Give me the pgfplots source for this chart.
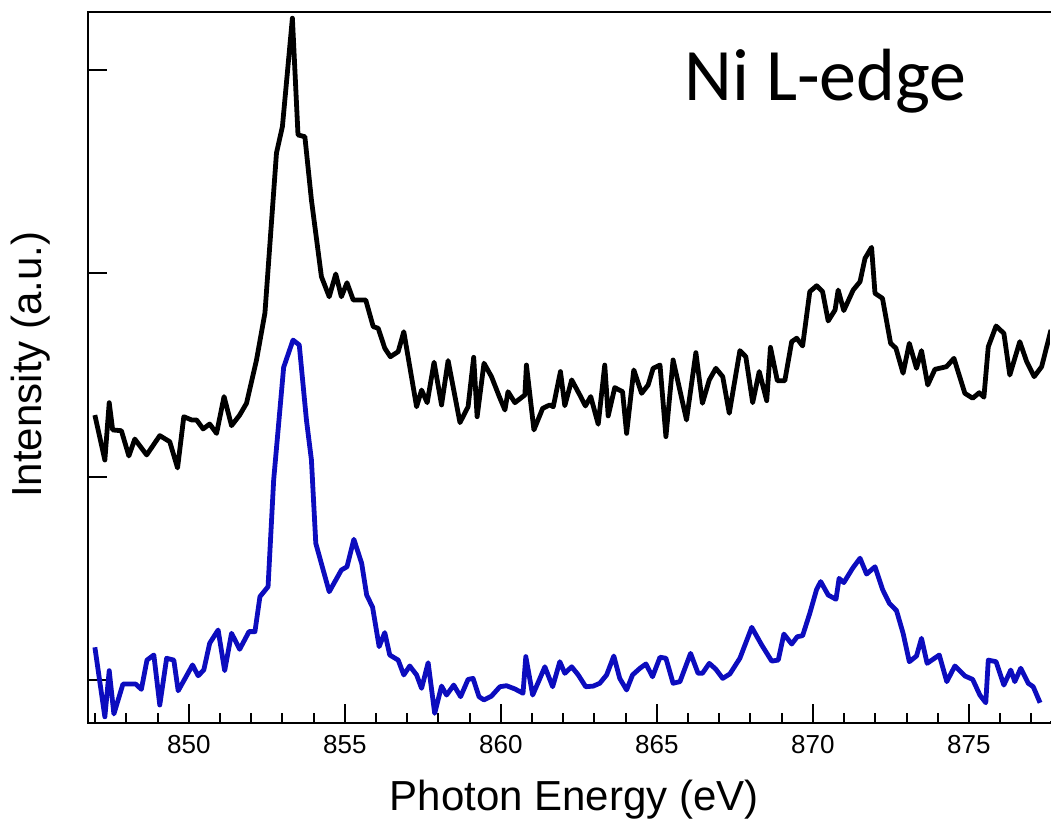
\documentclass[border=0pt]{standalone}
\usepackage{pgfplots}
\pgfplotsset{compat=1.18}
\usepackage{fontspec}
\setmainfont{Liberation Sans}
\newfontfamily\titlefont{Carlito}
\definecolor{specblue}{RGB}{12,12,190}
\begin{document}
\begin{tikzpicture}
\begin{axis}[
  scale only axis,
  width=481.5pt, height=355.2pt,
  xmin=846.77, xmax=877.63, ymin=-0.21, ymax=3.284,
  axis line style={line width=1pt, black},
  xtick={850,855,860,865,870,875},
  xticklabels={850,855,860,865,870,875},
  minor xtick={847,848,849,851,852,853,854,856,857,858,859,861,862,863,864,866,867,868,869,871,872,873,874,876,877},
  ytick={0,1,2,3}, yticklabels={},
  xtick pos=left, ytick pos=left,
  tick align=inside,
  major tick length=9.5pt, minor tick length=5pt,
  every tick/.style={line width=1pt, black},
  xticklabel style={font=\fontsize{13}{15}\selectfont, yshift=-3pt},
  xlabel={Photon Energy (eV)},
  ylabel={Intensity (a.u.)},
  xlabel style={font=\fontsize{21}{25}\selectfont, at={(axis description cs:0.505,0)}, anchor=base, yshift=-43.7pt},
  ylabel style={font=\fontsize{21}{25}\selectfont, at={(axis description cs:-0.060,0.504)}, anchor=center},
  clip=false,
]
\addplot[black, line width=2.4pt, line join=round] coordinates {
(846.99,1.303) (847.31,1.082) (847.45,1.364) (847.56,1.230) (847.84,1.226)
(848.08,1.102) (848.27,1.185) (848.65,1.107) (849.07,1.202) (849.39,1.172)
(849.64,1.043) (849.84,1.295) (850.09,1.279) (850.25,1.279) (850.46,1.235)
(850.67,1.259) (850.89,1.213) (851.13,1.394) (851.37,1.251) (851.63,1.303)
(851.85,1.361) (852.17,1.574) (852.44,1.805) (852.81,2.592) (853.00,2.722)
(853.32,3.255) (853.50,2.681) (853.72,2.672) (853.93,2.361) (854.25,1.984)
(854.50,1.885) (854.71,1.997) (854.89,1.885) (855.07,1.954) (855.27,1.869)
(855.67,1.869) (855.91,1.738) (856.07,1.730) (856.28,1.632) (856.46,1.590)
(856.71,1.615) (856.89,1.713) (857.30,1.344) (857.46,1.426) (857.64,1.364)
(857.86,1.563) (858.10,1.353) (858.31,1.571) (858.69,1.266) (858.95,1.344)
(859.13,1.587) (859.24,1.295) (859.46,1.558) (859.70,1.492) (859.95,1.394)
(860.13,1.328) (860.23,1.418) (860.45,1.364) (860.77,1.402) (860.82,1.549)
(861.06,1.230) (861.34,1.336) (861.57,1.353) (861.68,1.344) (861.91,1.517)
(862.05,1.349) (862.27,1.476) (862.53,1.402) (862.71,1.348) (862.88,1.394)
(863.12,1.258) (863.33,1.549) (863.44,1.299) (863.65,1.438) (863.90,1.418)
(864.03,1.213) (864.26,1.525) (864.51,1.410) (864.72,1.451) (864.88,1.533)
(865.10,1.549) (865.29,1.197) (865.52,1.574) (865.95,1.279) (866.25,1.610)
(866.46,1.361) (866.68,1.476) (866.89,1.533) (867.11,1.492) (867.32,1.312)
(867.66,1.620) (867.85,1.590) (868.07,1.364) (868.28,1.517) (868.52,1.374)
(868.64,1.636) (868.86,1.472) (869.10,1.472) (869.32,1.664) (869.48,1.681)
(869.67,1.643) (869.90,1.910) (870.12,1.939) (870.31,1.910) (870.49,1.766)
(870.71,1.820) (870.81,1.918) (870.99,1.817) (871.29,1.918) (871.51,1.959)
(871.67,2.074) (871.88,2.128) (871.99,1.902) (872.23,1.877) (872.49,1.656)
(872.66,1.632) (872.89,1.509) (873.09,1.656) (873.32,1.533) (873.48,1.620)
(873.68,1.451) (873.91,1.528) (874.28,1.541) (874.52,1.582) (874.87,1.410)
(875.12,1.386) (875.33,1.413) (875.48,1.391) (875.62,1.639) (875.87,1.741)
(876.12,1.705) (876.31,1.500) (876.63,1.664) (876.85,1.566) (877.09,1.492)
(877.33,1.541) (877.63,1.722)
};
\addplot[specblue, line width=2.4pt, line join=round] coordinates {
(846.99,0.161) (847.31,-0.181) (847.45,0.046) (847.60,-0.167) (847.89,-0.020)
(848.30,-0.020) (848.48,-0.046) (848.66,0.098) (848.88,0.123) (849.07,-0.123)
(849.29,0.107) (849.52,0.098) (849.66,-0.053) (849.90,0.013) (850.12,0.074)
(850.30,0.021) (850.48,0.049) (850.67,0.181) (850.94,0.246) (851.15,0.046)
(851.37,0.230) (851.63,0.151) (851.93,0.238) (852.12,0.238) (852.28,0.410)
(852.54,0.459) (852.72,0.984) (853.04,1.538) (853.34,1.672) (853.54,1.648)
(853.77,1.279) (853.93,1.082) (854.07,0.672) (854.50,0.434) (854.89,0.541)
(855.07,0.557) (855.29,0.692) (855.54,0.574) (855.70,0.418) (855.89,0.358)
(856.10,0.164) (856.28,0.233) (856.44,0.123) (856.71,0.098) (856.89,0.025)
(857.08,0.069) (857.30,0.025) (857.46,-0.041) (857.67,0.085) (857.88,-0.164)
(858.10,-0.030) (858.26,-0.074) (858.49,-0.025) (858.71,-0.082) (858.95,0.003)
(859.11,0.008) (859.30,-0.082) (859.46,-0.098) (859.70,-0.079) (859.97,-0.033)
(860.18,-0.028) (860.45,-0.044) (860.71,-0.065) (860.80,0.115) (861.02,-0.074)
(861.23,0.000) (861.41,0.065) (861.66,-0.033) (861.89,0.090) (862.05,0.033)
(862.27,0.065) (862.48,0.025) (862.72,-0.033) (862.96,-0.030) (863.17,-0.016)
(863.39,0.025) (863.62,0.118) (863.81,0.008) (864.03,-0.049) (864.22,0.025)
(864.46,0.058) (864.65,0.079) (864.86,0.016) (865.10,0.112) (865.29,0.107)
(865.52,-0.016) (865.74,-0.008) (866.08,0.131) (866.32,0.033) (866.46,0.033)
(866.68,0.082) (866.89,0.053) (867.11,0.008) (867.34,0.030) (867.66,0.107)
(868.04,0.259) (868.36,0.172) (868.68,0.093) (868.89,0.098) (869.07,0.226)
(869.32,0.177) (869.50,0.213) (869.67,0.218) (869.90,0.328) (870.12,0.446)
(870.25,0.484) (870.49,0.418) (870.74,0.397) (870.84,0.500) (870.99,0.479)
(871.27,0.549) (871.51,0.599) (871.72,0.521) (871.99,0.557) (872.23,0.446)
(872.45,0.377) (872.68,0.341) (872.89,0.230) (873.09,0.090) (873.32,0.118)
(873.48,0.205) (873.66,0.082) (874.05,0.123) (874.29,-0.008) (874.55,0.069)
(874.87,0.020) (875.12,0.003) (875.35,-0.074) (875.54,-0.112) (875.62,0.098)
(875.87,0.090) (876.12,-0.025) (876.34,0.049) (876.47,-0.008) (876.66,0.058)
(876.90,-0.016) (877.06,-0.033) (877.28,-0.112)
};
\coordinate (bl) at (rel axis cs:0,0);
\coordinate (tr) at (rel axis cs:1,1);
\node[font=\titlefont\fontsize{37}{42}\selectfont, anchor=base, yshift=-43.9pt] at (rel axis cs:0.766,1) {Ni L-edge};
\end{axis}
\draw[white, line width=1.4pt] ([yshift=-0.3pt]tr) -- ([yshift=0.8pt]bl -| tr);
\pgfresetboundingbox
\path[use as bounding box] ([shift={(-44pt,-52.15pt)}]bl) rectangle ([shift={(0pt,6.15pt)}]tr);
\end{tikzpicture}
\end{document}
